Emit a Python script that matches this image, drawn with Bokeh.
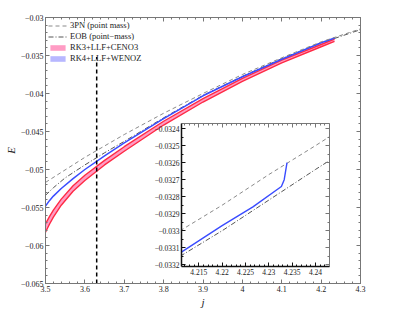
from bokeh.plotting import figure
from bokeh.layouts import column
from bokeh.models import LinearAxis, FixedTicker, CustomJSTickFormatter, Legend, LegendItem
from bokeh.embed import file_html
from bokeh.resources import INLINE

# ---------------- data ----------------
j_3pn = [3.5, 3.6, 3.7, 3.8, 3.9, 4.0, 4.1, 4.2, 4.3]
E_3pn = [-0.0517, -0.0484, -0.0454, -0.0426, -0.0400, -0.0375, -0.0353, -0.0332, -0.0315]

j_eob = [3.5, 3.52, 3.55, 3.6, 3.65, 3.7, 3.8, 3.9, 4.0, 4.1, 4.2, 4.3]
E_eob = [-0.0534, -0.0524, -0.0511, -0.0494, -0.0478, -0.0463, -0.0432, -0.04025, -0.03775,
         -0.0354, -0.03335, -0.0316]

j_weno = [3.5, 3.51, 3.52, 3.54, 3.57, 3.6, 3.65, 3.7, 3.8, 3.9, 4.0, 4.1, 4.2, 4.2327, 4.2333, 4.2339]
E_weno = [-0.0548, -0.0541, -0.0535, -0.0525, -0.0512, -0.0500, -0.0482, -0.0465, -0.0433,
          -0.0403, -0.0378, -0.0355, -0.03333, -0.03274, -0.03270, -0.0326]

j_ceno = [3.5, 3.51, 3.52, 3.54, 3.57, 3.6, 3.65, 3.7, 3.8, 3.9, 4.0, 4.1, 4.2, 4.234]
E_ceno_hi = [-0.05715, -0.0562, -0.05534, -0.0539, -0.05213, -0.05075, -0.0488, -0.0470,
             -0.04365, -0.04068, -0.0380, -0.03562, -0.03355, -0.03285]
E_ceno_lo = [-0.05825, -0.0572, -0.05626, -0.0547, -0.05287, -0.05145, -0.0494, -0.0476,
             -0.04415, -0.04112, -0.0384, -0.03598, -0.03385, -0.03315]

vline_j = [3.63]
vline_E = [-0.065, -0.0352]

# inset (zoom) data
ji_3pn = [4.211, 4.22, 4.23, 4.24, 4.244]
Ei_3pn = [-0.03300, -0.03285, -0.03267, -0.03250, -0.03243]
ji_eob = [4.211, 4.22, 4.23, 4.24, 4.244]
Ei_eob = [-0.03315, -0.03300, -0.03282, -0.03264, -0.03257]
ji_weno = [4.211, 4.22, 4.2266, 4.2327, 4.2333, 4.2336, 4.2339]
Ei_weno = [-0.03313, -0.03297, -0.03286, -0.03274, -0.03270, -0.03265, -0.03260]

# tick labels
x_ticks = [3.5, 3.6, 3.7, 3.8, 3.9, 4.0, 4.1, 4.2, 4.3]
y_ticks = [-0.065, -0.06, -0.055, -0.05, -0.045, -0.04, -0.035, -0.03]
xi_ticks = [4.215, 4.22, 4.225, 4.23, 4.235, 4.24]
yi_ticks = [-0.0332, -0.0331, -0.033, -0.0329, -0.0328, -0.0327, -0.0326, -0.0325, -0.0324]

labels = ["3PN (point mass)", "EOB (point\u2212mass)", "RK3+LLF+CENO3", "RK4+LLF+WENOZ"]

# ---------------- styling ----------------
FONT = "Liberation Serif"
RED = "#ff2a44"
PINK = "#ff9cc4"
BLUE = "#3a4cff"
LAV = "#b7b7ff"
GRAY = "#8a8a8a"
DARK = "#555555"

fmt_code = """
const s = Math.abs(tick).toFixed(6).replace(/0+$/, '').replace(/\\.$/, '');
return (tick < 0 ? '\\u2212' : '') + s;
"""


def minor_list(a, b, step):
    n = int(round((b - a) / step))
    return [round(a + i * step, 6) for i in range(n + 1)]


def style_axis(ax, labels_on=True, size="8px", color="#777777", width=1):
    ax.axis_line_color = color
    ax.axis_line_width = width
    ax.major_tick_line_color = color
    ax.minor_tick_line_color = color
    ax.major_tick_in = 4
    ax.major_tick_out = 0
    ax.minor_tick_in = 2
    ax.minor_tick_out = 0
    ax.major_label_text_font = FONT
    ax.major_label_text_font_size = size
    ax.major_label_text_color = "#222222"
    ax.major_label_standoff = 2
    ax.formatter = CustomJSTickFormatter(code=fmt_code)
    if not labels_on:
        ax.major_label_text_color = None
        ax.major_label_standoff = 0
        ax.formatter = CustomJSTickFormatter(code="return '';")


# ---------------- main figure ----------------
p = figure(width=391, height=311, x_range=(3.5, 4.3), y_range=(-0.065, -0.03),
           output_backend="svg", toolbar_location=None,
           min_border_left=45, min_border_right=31, min_border_top=17, min_border_bottom=28)
p.outline_line_color = None
p.grid.visible = False
p.background_fill_color = "white"
p.border_fill_color = "white"

xt = FixedTicker(ticks=x_ticks, minor_ticks=minor_list(3.5, 4.3, 0.02))
yt = FixedTicker(ticks=y_ticks, minor_ticks=minor_list(-0.065, -0.03, 0.001))
p.xaxis.ticker = xt
p.yaxis.ticker = yt
style_axis(p.xaxis[0])
style_axis(p.yaxis[0])
p.xaxis.axis_label = "j"
p.yaxis.axis_label = "E"
for ax in (p.xaxis[0], p.yaxis[0]):
    ax.axis_label_text_font = FONT
    ax.axis_label_text_font_style = "italic"
    ax.axis_label_text_font_size = "11px"
    ax.axis_label_standoff = 1
    ax.axis_label_text_color = "#222222"

ax_r = LinearAxis(ticker=yt)
style_axis(ax_r, labels_on=False)
p.add_layout(ax_r, "right")
ax_t = LinearAxis(ticker=xt)
style_axis(ax_t, labels_on=False)
p.add_layout(ax_t, "above")

r_band = p.varea(x=j_ceno, y1=E_ceno_lo, y2=E_ceno_hi, fill_color=PINK)
p.line(j_ceno, E_ceno_hi, line_color=RED, line_width=1.4)
p.line(j_ceno, E_ceno_lo, line_color=RED, line_width=1.4)
r_eob = p.line(j_eob, E_eob, line_color=DARK, line_width=1, line_dash="5 2 1 2")
r_wpatch = p.varea(x=j_weno, y1=E_weno, y2=E_weno, fill_color=LAV)
p.line(j_weno, E_weno, line_color=BLUE, line_width=1.5)
r_3pn = p.line(j_3pn, E_3pn, line_color=GRAY, line_width=1, line_dash="4 3")
p.line(x=[vline_j[0], vline_j[0]], y=vline_E, line_color="black", line_width=1.5, line_dash="4 3")

legend = Legend(items=[LegendItem(label=labels[0], renderers=[r_3pn]),
                       LegendItem(label=labels[1], renderers=[r_eob]),
                       LegendItem(label=labels[2], renderers=[r_band]),
                       LegendItem(label=labels[3], renderers=[r_wpatch])],
                location="top_left")
legend.margin = 3
legend.padding = 0
legend.spacing = 1
legend.label_height = 8
legend.glyph_height = 7
legend.glyph_width = 19
legend.label_standoff = 3
legend.label_text_font = FONT
legend.label_text_font_size = "8.5px"
legend.label_text_color = "#222222"
legend.background_fill_alpha = 0
legend.border_line_alpha = 0
p.add_layout(legend)

# ---------------- inset figure ----------------
p2 = figure(width=224, height=164, x_range=(4.2113, 4.2430), y_range=(-0.03321, -0.03237),
            output_backend="svg", toolbar_location=None,
            min_border_left=40, min_border_right=6, min_border_top=5, min_border_bottom=16)
p2.outline_line_color = None
p2.grid.visible = False
p2.background_fill_color = "white"
p2.border_fill_color = None
p2.border_fill_alpha = 0

xit = FixedTicker(ticks=xi_ticks, minor_ticks=minor_list(4.211, 4.243, 0.001))
yit = FixedTicker(ticks=yi_ticks, minor_ticks=minor_list(-0.0332, -0.03235, 0.00005))
p2.xaxis.ticker = xit
p2.yaxis.ticker = yit
style_axis(p2.xaxis[0], size="7.5px", color="#111111", width=1.5)
style_axis(p2.yaxis[0], size="7.5px", color="#111111", width=1.5)
a2r = LinearAxis(ticker=yit)
style_axis(a2r, labels_on=False)
p2.add_layout(a2r, "right")
a2t = LinearAxis(ticker=xit)
style_axis(a2t, labels_on=False)
p2.add_layout(a2t, "above")

p2.line(ji_3pn, Ei_3pn, line_color=GRAY, line_width=1, line_dash="4 3")
p2.line(ji_eob, Ei_eob, line_color=DARK, line_width=1, line_dash="5 2 1 2")
p2.line(ji_weno, Ei_weno, line_color=BLUE, line_width=1.4)

p2.margin = (-193, 0, 0, 136)

layout = column(p, p2, spacing=0)
open("out.html", "w").write(file_html(layout, INLINE))
